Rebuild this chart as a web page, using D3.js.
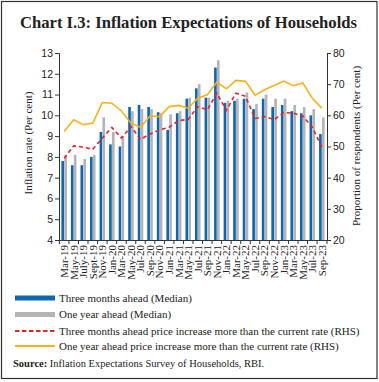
<!DOCTYPE html>
<html><head><meta charset="utf-8">
<script src="https://cdn.jsdelivr.net/npm/d3@7"></script>
<style>body{margin:0;background:#fff}svg{display:block}</style>
</head><body>
<svg id="c" width="379" height="382"></svg>
<script>
const categories = ["Mar-19","May-19","July-19","Sept-19","Nov-19","Jan-20","Mar-20","May-20","Jul-20","Sep-20","Nov-20","Jan-21","Mar-21","May-21","Jul-21","Sep-21","Nov-21","Jan-22","Mar-22","May-22","Jul-22","Sep-22","Nov-22","Jan-23","Mar-23","May-23","Jul-23","Sep-23"];
const threeMonthMedian = [7.8,7.6,7.6,8.0,9.2,8.6,8.5,10.4,10.5,10.4,10.15,9.3,10.1,10.8,11.3,10.85,12.3,10.6,10.7,10.8,10.3,10.8,10.4,10.5,10.2,10.1,10.0,9.1];
const oneYearMedian    = [8.1,8.1,7.9,8.1,9.9,9.2,9.0,10.2,10.3,10.3,10.1,10.05,10.2,10.85,11.5,10.85,12.65,10.7,10.8,11.1,10.55,11.0,10.8,10.8,10.5,10.4,10.3,9.9];
const threeMonthShare  = [46.2,50.2,49.8,49.1,52.7,56.1,52.7,56.4,52.3,54.0,55.3,56.2,58.3,58.7,62.8,61.8,67.1,61.6,67.1,66.1,59.0,59.6,58.6,60.9,60.7,59.8,56.2,49.8];
const oneYearShare     = [54.8,58.6,57.0,57.5,64.1,63.9,61.4,57.5,56.2,59.8,59.6,62.8,63.2,62.3,65.5,66.6,70.7,68.5,71.2,70.9,66.5,68.2,69.6,71.0,69.5,70.4,65.5,62.3];
const leftTicks = [4,5,6,7,8,9,10,11,12,13];
const rightTicks = [20,30,40,50,60,70,80];
const legendLabels = ["Three months ahead (Median)","One year ahead (Median)","Three months ahead price increase more than the current rate (RHS)","One year ahead price increase more than the current rate (RHS)"];

const BLUE="#0f67b1", GRAY="#b4b4b6", RED="#e0262b", YEL="#f7b21b", AX="#333";
const svg = d3.select("#c");
const L=59, R=327, T=53, B=240;
const serif = "'Liberation Serif','DejaVu Serif',serif";
const sans = "'Liberation Sans',Arial,sans-serif";

svg.append("rect").attr("x",1.5).attr("y",1.5).attr("width",375.5).attr("height",377).attr("fill","none").attr("stroke","#333").attr("stroke-width",1.2);

svg.append("text").attr("x",20).attr("y",28).attr("font-family",serif).attr("font-weight","bold")
  .attr("font-size",17).attr("fill","#222").attr("textLength",337).attr("lengthAdjust","spacingAndGlyphs")
  .text("Chart I.3: Inflation Expectations of Households");

const x = d3.scaleBand().domain(categories).range([L,R]).paddingInner(0.42).paddingOuter(0.25);
const xs = d3.scaleBand().domain(["a","b"]).range([0,x.bandwidth()]).paddingInner(0.08);
const yL = d3.scaleLinear().domain([4,13]).range([B,T]);
const yR = d3.scaleLinear().domain([20,80]).range([B,T]);

const g = svg.append("g");
categories.forEach((c,i)=>{
  g.append("rect").attr("x",x(c)+xs("a")).attr("width",xs.bandwidth()).attr("y",yL(threeMonthMedian[i])).attr("height",yL(4)-yL(threeMonthMedian[i])).attr("fill",BLUE);
  g.append("rect").attr("x",x(c)+xs("b")).attr("width",xs.bandwidth()).attr("y",yL(oneYearMedian[i])).attr("height",yL(4)-yL(oneYearMedian[i])).attr("fill",GRAY);
});

const cx = c => x(c)+x.bandwidth()/2;
const line = d3.line().x((d,i)=>cx(categories[i])).y(d=>yR(d));
svg.append("path").datum(oneYearShare).attr("d",line).attr("fill","none").attr("stroke",YEL).attr("stroke-width",1.6);
svg.append("path").datum(threeMonthShare).attr("d",line).attr("fill","none").attr("stroke",RED).attr("stroke-width",1.6).attr("stroke-dasharray","4,3");

// axes
const ax = svg.append("g").attr("stroke",AX).attr("stroke-width",1);
const lAxis = svg.append("g").attr("transform",`translate(${L},0)`).call(d3.axisLeft(yL).tickValues(leftTicks).tickSize(4).tickPadding(2));
const rAxis = svg.append("g").attr("transform",`translate(${R},0)`).call(d3.axisRight(yR).tickValues(rightTicks).tickSize(4).tickPadding(2));
[lAxis,rAxis].forEach(a=>{
  a.select(".domain").attr("stroke",AX);
  a.selectAll(".tick line").attr("stroke",AX);
  a.selectAll("text").attr("font-family",sans).attr("font-size",10.5).attr("fill","#222");
});
const bAxis = svg.append("g").attr("transform",`translate(0,${B})`).call(d3.axisBottom(x).tickSize(4).tickSizeOuter(0));
bAxis.select(".domain").attr("stroke",AX);
bAxis.selectAll(".tick line").attr("stroke",AX).attr("transform",`translate(${-x.step()/2},0)`);
bAxis.selectAll("text").attr("font-family",serif).attr("font-size",11).attr("fill","#222")
  .attr("text-anchor","end").attr("transform","rotate(-90)").attr("x",-5).attr("y",0).attr("dy","0.35em");
bAxis.append("line").attr("x1",R).attr("x2",R).attr("y1",0).attr("y2",4).attr("stroke",AX);

svg.append("text").attr("transform",`translate(32,143) rotate(-90)`).attr("text-anchor","middle")
  .attr("font-family",serif).attr("font-size",11).attr("fill","#222").text("Inflation rate (Per cent)");
svg.append("text").attr("transform",`translate(360,146) rotate(-90)`).attr("text-anchor","middle")
  .attr("font-family",serif).attr("font-size",11).attr("fill","#222").text("Proportion of respondents (Per cent)");

// legend
const ly = [298,314.5,331,346];
const leg = svg.append("g");
leg.append("rect").attr("x",15).attr("y",ly[0]-2.5).attr("width",40).attr("height",5).attr("fill",BLUE);
leg.append("rect").attr("x",15).attr("y",ly[1]-2.5).attr("width",40).attr("height",5).attr("fill",GRAY);
leg.append("line").attr("x1",15).attr("x2",55).attr("y1",ly[2]).attr("y2",ly[2]).attr("stroke",RED).attr("stroke-width",2).attr("stroke-dasharray","4.5,2.5");
leg.append("line").attr("x1",15).attr("x2",55).attr("y1",ly[3]).attr("y2",ly[3]).attr("stroke",YEL).attr("stroke-width",1.8);
legendLabels.forEach((t,i)=>{
  leg.append("text").attr("x",59).attr("y",ly[i]+3.8).attr("font-family",serif).attr("font-size",11).attr("fill","#222").text(t);
});
const src = svg.append("text").attr("x",13).attr("y",367).attr("font-family",serif).attr("font-size",10.5).attr("fill","#222");
src.append("tspan").attr("font-weight","bold").text("Source:");
src.append("tspan").text(" Inflation Expectations Survey of Households, RBI.");
</script>
</body></html>
